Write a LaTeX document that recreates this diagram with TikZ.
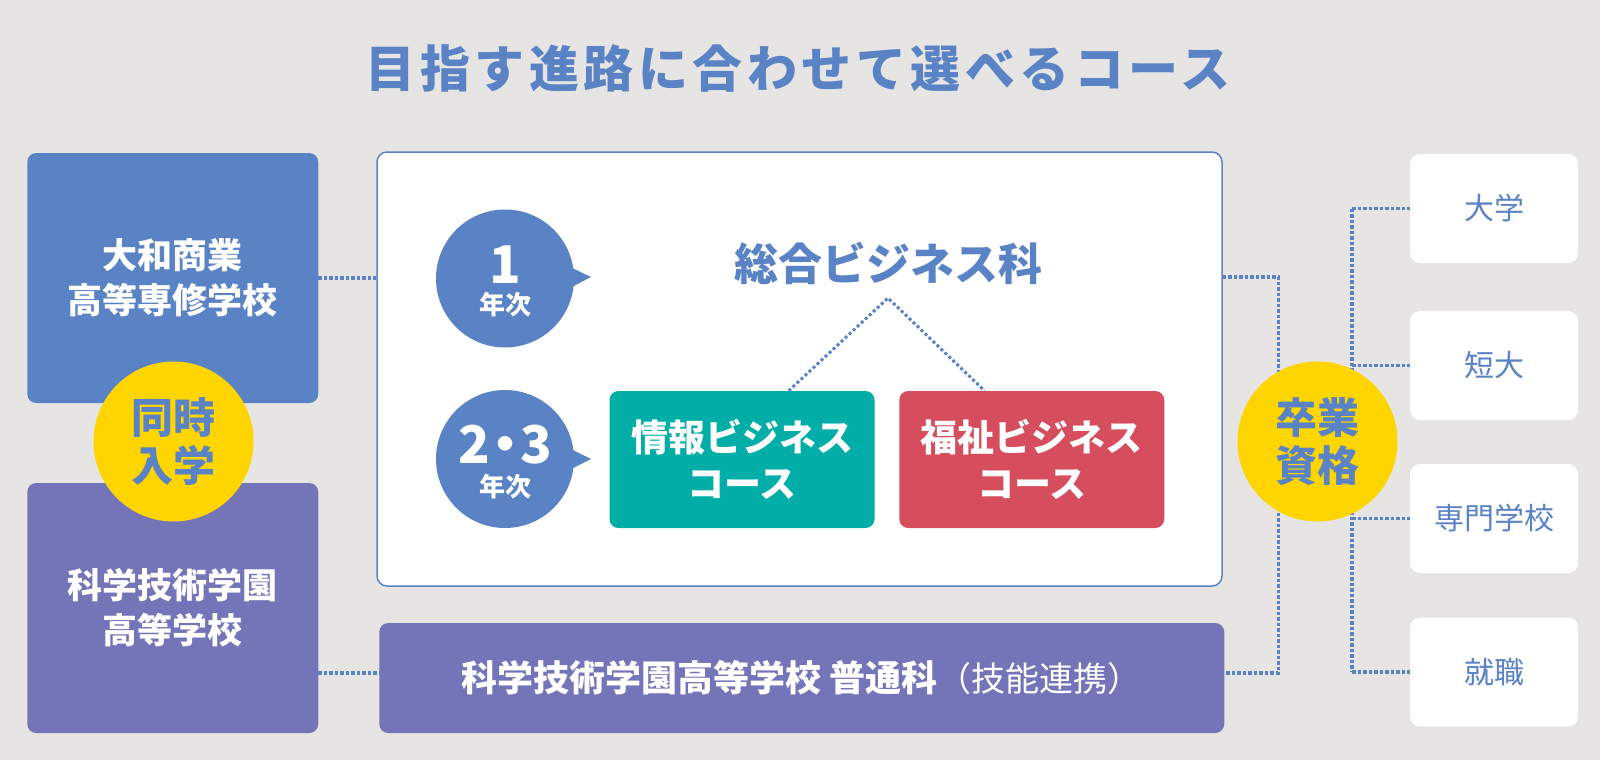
\documentclass[tikz,border=0pt]{standalone}
\usepackage{fontspec}
\setmainfont{Noto Sans CJK JP}
\usetikzlibrary{calc}
\definecolor{bg}{HTML}{E6E5E3}
\definecolor{cblue}{HTML}{5A83C6}
\definecolor{cpurple}{HTML}{7474B9}
\definecolor{cteal}{HTML}{00ADA7}
\definecolor{cred}{HTML}{D64D5D}
\definecolor{cyellow}{HTML}{FFD500}
\tikzset{
  box/.style={rounded corners=9pt, inner sep=0pt, align=center, text=white,
    font=\bfseries\fontsize{35}{45}\selectfont},
  coursebox/.style={box, minimum width=265pt, minimum height=137pt,
    font=\bfseries\fontsize{37}{46}\selectfont},
  destbox/.style={fill=white, rounded corners=10pt, inner sep=0pt,
    minimum width=168pt, minimum height=109pt, text=cblue,
    font=\fontsize{30}{30}\selectfont},
  yellowcircle/.style={circle, fill=cyellow, minimum size=160pt, inner sep=0pt,
    align=center, text=cblue, font=\bfseries\fontsize{42}{48}\selectfont},
  yearcircle/.style={circle, fill=cblue, minimum size=138pt, inner sep=0pt},
  bignum/.style={text=white, inner sep=0pt, font=\bfseries\fontsize{52}{52}\selectfont},
  yeartext/.style={text=white, inner sep=0pt, font=\bfseries\fontsize{26}{26}\selectfont},
  dotline/.style={draw=cblue, line width=3.5pt, dash pattern=on 3.5pt off 2pt},
  diagline/.style={draw=cblue, line width=3pt, dash pattern=on 3pt off 2.5pt}
}
\begin{document}
\begin{tikzpicture}[x=1pt,y=-1pt]
\useasboundingbox (0,0) rectangle (1600,760);
\fill[bg] (0,0) rectangle (1600,760);

% title
\node[text=cblue, inner sep=0pt, font=\bfseries\fontsize{50}{50}\selectfont\addfontfeatures{LetterSpace=9}] (title) at (798,69) {目指す進路に合わせて選べるコース};

% left boxes
\node[box, fill=cblue, minimum width=291pt, minimum height=250pt] (yamato) at (172.75,278) {大和商業\\高等専修学校};
\node[box, fill=cpurple, minimum width=291pt, minimum height=250pt] (kagaku) at (172.75,608) {科学技術学園\\高等学校};
\node[yellowcircle] (doji) at (173.5,441.5) {同時\\入学};

% main box
\node[draw=cblue, line width=1.5pt, fill=white, rounded corners=10pt, inner sep=0pt,
  minimum width=845pt, minimum height=434pt] (main) at (799.5,369) {};

% year circles
\node[yearcircle] (y1) at (505,278.5) {};
\fill[cblue] ($(y1.center)+(62,-13)$) -- ($(y1.center)+(86,-1.5)$) -- ($(y1.center)+(62,11)$) -- cycle;
\node[bignum] (y1num) at ($(y1.center)+(0,-14)$) {1};
\node[yeartext] (y1txt) at ($(y1.center)+(0,26)$) {年次};

\node[yearcircle] (y2) at (505,459) {};
\fill[cblue] ($(y2.center)+(62,-12)$) -- ($(y2.center)+(86,0)$) -- ($(y2.center)+(62,12)$) -- cycle;
\node[bignum] (y2num) at ($(y2.center)+(0,-14)$) {2\kern-11pt・\kern-11pt3};
\node[yeartext] (y2txt) at ($(y2.center)+(0,28)$) {年次};

% department
\node[text=cblue, inner sep=0pt, font=\bfseries\fontsize{44}{44}\selectfont] (sogo) at (888,263) {総合ビジネス科};

% courses
\node[coursebox, fill=cteal] (joho) at (742,459.5) {情報ビジネス\\コース};
\node[coursebox, fill=cred] (fukushi) at (1031.75,459.5) {福祉ビジネス\\コース};

\coordinate (apex) at (888,298);
\draw[diagline] ($(joho.north east)+(-86,0)$) -- (apex) -- ($(fukushi.north west)+(85.5,0)$);

% wide box
\node[box, fill=cpurple, minimum width=845pt, minimum height=110pt, font=\bfseries\fontsize{36}{36}\selectfont] (futsu) at (801.75,678) {科学技術学園高等学校 普通科{\mdseries\fontsize{34}{34}\selectfont（技能連携）}};

% destination boxes
\node[destbox] (daigaku) at (1494,208.5) {大学};
\node[destbox] (tandai) at (1494,365.5) {短大};
\node[destbox] (senmon) at (1494,518.5) {専門学校};
\node[destbox] (shushoku) at (1494,672) {就職};

% left connectors
\draw[dotline] (yamato.east) -- (yamato.east -| main.west);
\coordinate (lb) at (0,673);
\draw[dotline] (kagaku.east |- lb) -- (futsu.west |- lb);

% right connectors
\coordinate (ja) at (1278.5,277);
\coordinate (jb) at (1278.5,673);
\draw[dotline] (main.east |- ja) -- (ja) -- (jb) -- (futsu.east |- jb);
\coordinate (ka) at (1352,0);
\draw[dotline] (daigaku.west -| ka) -- (shushoku.west -| ka);
\draw[dotline] (daigaku.west -| ka) -- (daigaku.west);
\draw[dotline] (tandai.west -| ka) -- (tandai.west);
\draw[dotline] (senmon.west -| ka) -- (senmon.west);
\draw[dotline] (shushoku.west -| ka) -- (shushoku.west);

\node[yellowcircle] (sotsu) at (1317.5,441.5) {卒業\\資格};
\end{tikzpicture}
\end{document}
